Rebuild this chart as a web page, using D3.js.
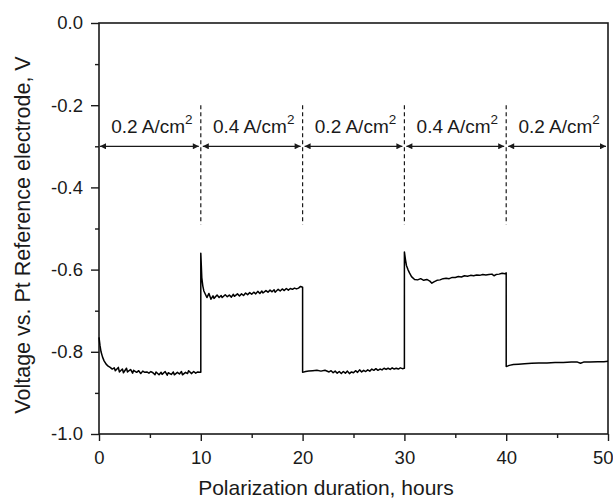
<!DOCTYPE html>
<html>
<head>
<meta charset="utf-8">
<script src="https://cdn.jsdelivr.net/npm/d3@7"></script>
<style>
	body { margin: 0; background: #fff; }
	svg { display: block; font-family: "Liberation Sans", Arial, sans-serif; }
</style>
</head>
<body>
<div id="chart"></div>
<script>

// [hours, volts], one array per current step
var step1 = [[0,-0.765],[0.1,-0.785],[0.2,-0.800],[0.35,-0.813],[0.5,-0.822],[0.7,-0.830],[0.9,-0.835],[1.1,-0.838],
	[1.3,-0.842],[1.5,-0.839],[1.6,-0.846],[1.9,-0.838],[2.0,-0.849],[2.3,-0.842],[2.4,-0.851],[2.7,-0.840],[2.8,-0.849],
	[3.1,-0.843],[3.3,-0.852],[3.4,-0.845],[3.7,-0.850],[3.9,-0.846],[4.1,-0.853],[4.3,-0.847],[4.5,-0.850],[4.7,-0.849],
	[4.9,-0.852],[5.1,-0.848],[5.3,-0.851],[5.5,-0.856],[5.6,-0.849],[5.9,-0.856],[6.1,-0.850],[6.2,-0.855],[6.5,-0.848],
	[6.7,-0.857],[6.8,-0.851],[7.1,-0.855],[7.3,-0.849],[7.4,-0.856],[7.7,-0.850],[7.9,-0.854],[8.1,-0.848],[8.2,-0.856],
	[8.5,-0.850],[8.7,-0.853],[8.8,-0.846],[9.1,-0.853],[9.3,-0.848],[9.5,-0.852],[9.7,-0.849],[9.9,-0.850],[10,-0.850]]

var step2 = [[10,-0.560],[10.05,-0.590],[10.1,-0.620],[10.2,-0.640],[10.3,-0.652],[10.45,-0.660],[10.6,-0.668],[10.8,-0.658],
	[11.0,-0.672],[11.2,-0.664],[11.3,-0.670],[11.6,-0.662],[11.8,-0.668],[12.0,-0.663],[12.1,-0.668],[12.4,-0.661],
	[12.6,-0.666],[12.8,-0.662],[13.0,-0.667],[13.2,-0.660],[13.3,-0.665],[13.6,-0.659],[13.8,-0.664],[14.0,-0.659],
	[14.2,-0.663],[14.4,-0.657],[14.6,-0.661],[14.8,-0.656],[15.0,-0.660],[15.2,-0.655],[15.4,-0.659],[15.6,-0.653],
	[15.8,-0.658],[16.0,-0.652],[16.1,-0.657],[16.4,-0.651],[16.6,-0.655],[16.8,-0.650],[17.0,-0.654],[17.2,-0.649],
	[17.3,-0.655],[17.6,-0.648],[17.8,-0.652],[18.0,-0.647],[18.2,-0.651],[18.4,-0.646],[18.6,-0.650],[18.8,-0.646],
	[19.0,-0.648],[19.2,-0.645],[19.4,-0.647],[19.6,-0.645],[19.8,-0.641],[20,-0.643]]

var step3 = [[20,-0.850],[20.3,-0.848],[20.6,-0.847],[21.0,-0.846],[21.4,-0.845],[21.8,-0.847],[22.2,-0.845],[22.6,-0.849],
	[22.8,-0.846],[23.0,-0.851],[23.2,-0.847],[23.4,-0.852],[23.6,-0.848],[23.8,-0.853],[24.0,-0.848],[24.2,-0.852],
	[24.4,-0.847],[24.6,-0.853],[24.8,-0.849],[25.0,-0.851],[25.2,-0.846],[25.4,-0.850],[25.6,-0.844],[25.8,-0.849],
	[26.0,-0.845],[26.2,-0.848],[26.4,-0.844],[26.6,-0.847],[26.8,-0.842],[27.0,-0.845],[27.2,-0.841],[27.4,-0.845],
	[27.6,-0.842],[27.8,-0.844],[28.0,-0.840],[28.2,-0.843],[28.4,-0.840],[28.6,-0.843],[28.8,-0.839],[29.0,-0.842],
	[29.2,-0.840],[29.4,-0.842],[29.6,-0.839],[29.8,-0.841],[30,-0.840]]

var step4 = [[30,-0.557],[30.1,-0.575],[30.2,-0.590],[30.35,-0.600],[30.5,-0.608],[30.7,-0.617],[31.0,-0.624],[31.3,-0.625],
	[31.6,-0.622],[31.9,-0.626],[32.2,-0.624],[32.5,-0.628],[32.7,-0.633],[32.9,-0.630],[33.2,-0.626],[33.5,-0.625],
	[33.8,-0.622],[34.1,-0.621],[34.4,-0.622],[34.7,-0.619],[35.0,-0.619],[35.3,-0.617],[35.6,-0.618],[35.9,-0.615],
	[36.2,-0.616],[36.5,-0.614],[36.8,-0.615],[37.1,-0.613],[37.4,-0.614],[37.7,-0.612],[38.0,-0.613],[38.3,-0.612],
	[38.6,-0.611],[38.8,-0.615],[39.0,-0.612],[39.3,-0.611],[39.6,-0.609],[39.9,-0.610],[40,-0.608]]

var step5 = [[40,-0.836],[40.3,-0.833],[40.7,-0.831],[41.2,-0.830],[41.8,-0.829],[42.5,-0.828],[43.2,-0.827],[44.0,-0.827],
	[44.8,-0.826],[45.6,-0.826],[46.4,-0.825],[47.0,-0.825],[47.3,-0.828],[47.6,-0.825],[48.2,-0.825],[49.0,-0.824],
	[49.6,-0.824],[50,-0.823]]

var stepEdges = [0, 10, 20, 30, 40, 50]
var currentDensity = ["0.2", "0.4", "0.2", "0.4", "0.2"]

var xMajor = [0, 10, 20, 30, 40, 50]
var xMinor = [5, 15, 25, 35, 45]
var yMajor = [0, -0.2, -0.4, -0.6, -0.8, -1.0]
var yMinor = [-0.1, -0.3, -0.5, -0.7, -0.9]

var xTitle = "Polarization duration, hours"
var yTitle = "Voltage vs. Pt Reference electrode, V"

var width = 613, height = 499
var margin = {top: 23, right: 5, bottom: 65, left: 99}

var svg = d3.select("#chart").append("svg")
	.attr("width", width)
	.attr("height", height)

var x = d3.scaleLinear().domain([0, 50]).range([margin.left, width - margin.right])
var y = d3.scaleLinear().domain([-1.0, 0]).range([height - margin.bottom, margin.top])

var ink = "#1a1a1a"

// minor ticks first, then the labelled ones
svg.append("g")
	.attr("transform", "translate(0," + y(-1.0) + ")")
	.call(d3.axisBottom(x).tickValues(xMinor).tickSize(4).tickFormat(""))
svg.append("g")
	.attr("class", "xaxis")
	.attr("transform", "translate(0," + y(-1.0) + ")")
	.call(d3.axisBottom(x).tickValues(xMajor).tickSize(7).tickPadding(10).tickFormat(function (d) { return d }))

svg.append("g")
	.attr("transform", "translate(" + x(0) + ",0)")
	.call(d3.axisLeft(y).tickValues(yMinor).tickSize(4).tickFormat(""))
svg.append("g")
	.attr("class", "yaxis")
	.attr("transform", "translate(" + x(0) + ",0)")
	.call(d3.axisLeft(y).tickValues(yMajor).tickSize(8).tickPadding(8).tickFormat(function (d) { return d.toFixed(1) }))

svg.selectAll(".domain").remove()
svg.selectAll(".tick line").attr("stroke", ink).attr("stroke-width", 1.4)
svg.selectAll(".tick text")
	.attr("fill", ink)
	.style("font-size", "18.5px")
	.style("font-family", "\"Liberation Sans\", Arial, sans-serif")

// last x label sits on the page edge, keep it inside
svg.selectAll(".xaxis .tick text")
	.filter(function (d) { return d == 50 })
	.attr("text-anchor", "end")
	.attr("x", 5)

// frame
svg.append("rect")
	.attr("x", x(0))
	.attr("y", y(0))
	.attr("width", x(50) - x(0))
	.attr("height", y(-1.0) - y(0))
	.attr("fill", "none")
	.attr("stroke", ink)
	.attr("stroke-width", 1.6)

// voltage trace
var trace = step1.concat(step2, step3, step4, step5)
var line = d3.line()
	.x(function (d) { return x(d[0]) })
	.y(function (d) { return y(d[1]) })

svg.append("path")
	.datum(trace)
	.attr("fill", "none")
	.attr("stroke", "#000")
	.attr("stroke-width", 1.5)
	.attr("stroke-linejoin", "round")
	.attr("d", line)

// step markers
svg.selectAll(".divider")
	.data(stepEdges.slice(1, -1))
	.enter().append("line")
		.attr("class", "divider")
		.attr("x1", function (d) { return x(d) })
		.attr("x2", function (d) { return x(d) })
		.attr("y1", y(-0.2))
		.attr("y2", y(-0.49))
		.attr("stroke", ink)
		.attr("stroke-width", 1.2)
		.attr("stroke-dasharray", "4,3")

var defs = svg.append("defs")
defs.append("marker")
	.attr("id", "head")
	.attr("viewBox", "0 0 10 10")
	.attr("refX", 10)
	.attr("refY", 5)
	.attr("markerWidth", 9)
	.attr("markerHeight", 6)
	.attr("markerUnits", "userSpaceOnUse")
	.attr("orient", "auto-start-reverse")
	.append("path")
		.attr("d", "M0,0L10,5L0,10z")
		.attr("fill", ink)

var steps = currentDensity.map(function (c, i) {
	return {from: stepEdges[i], to: stepEdges[i + 1], label: c}
})

svg.selectAll(".span")
	.data(steps)
	.enter().append("line")
		.attr("class", "span")
		.attr("x1", function (d) { return x(d.from) + (d.from == 0 ? 1 : 2) })
		.attr("x2", function (d) { return x(d.to) - 2 })
		.attr("y1", y(-0.3))
		.attr("y2", y(-0.3))
		.attr("stroke", ink)
		.attr("stroke-width", 1.2)
		.attr("marker-start", "url(#head)")
		.attr("marker-end", "url(#head)")

var labels = svg.selectAll(".cd")
	.data(steps)
	.enter().append("text")
		.attr("class", "cd")
		.attr("x", function (d) { return x((d.from + d.to) / 2) + 2 })
		.attr("y", y(-0.3) - 13)
		.attr("text-anchor", "middle")
		.attr("fill", ink)
		.style("font-size", "19px")

labels.append("tspan").text(function (d) { return d.label + " A/cm" })
labels.append("tspan")
	.attr("dy", -9)
	.style("font-size", "13.5px")
	.text("2")

// axis titles
svg.append("text")
	.attr("x", 326)
	.attr("y", 495)
	.attr("text-anchor", "middle")
	.attr("fill", ink)
	.style("font-size", "21px")
	.text(xTitle)

svg.append("text")
	.attr("transform", "translate(30," + 235 + ") rotate(-90)")
	.attr("text-anchor", "middle")
	.attr("fill", ink)
	.style("font-size", "21.5px")
	.text(yTitle)

</script>
</body>
</html>
